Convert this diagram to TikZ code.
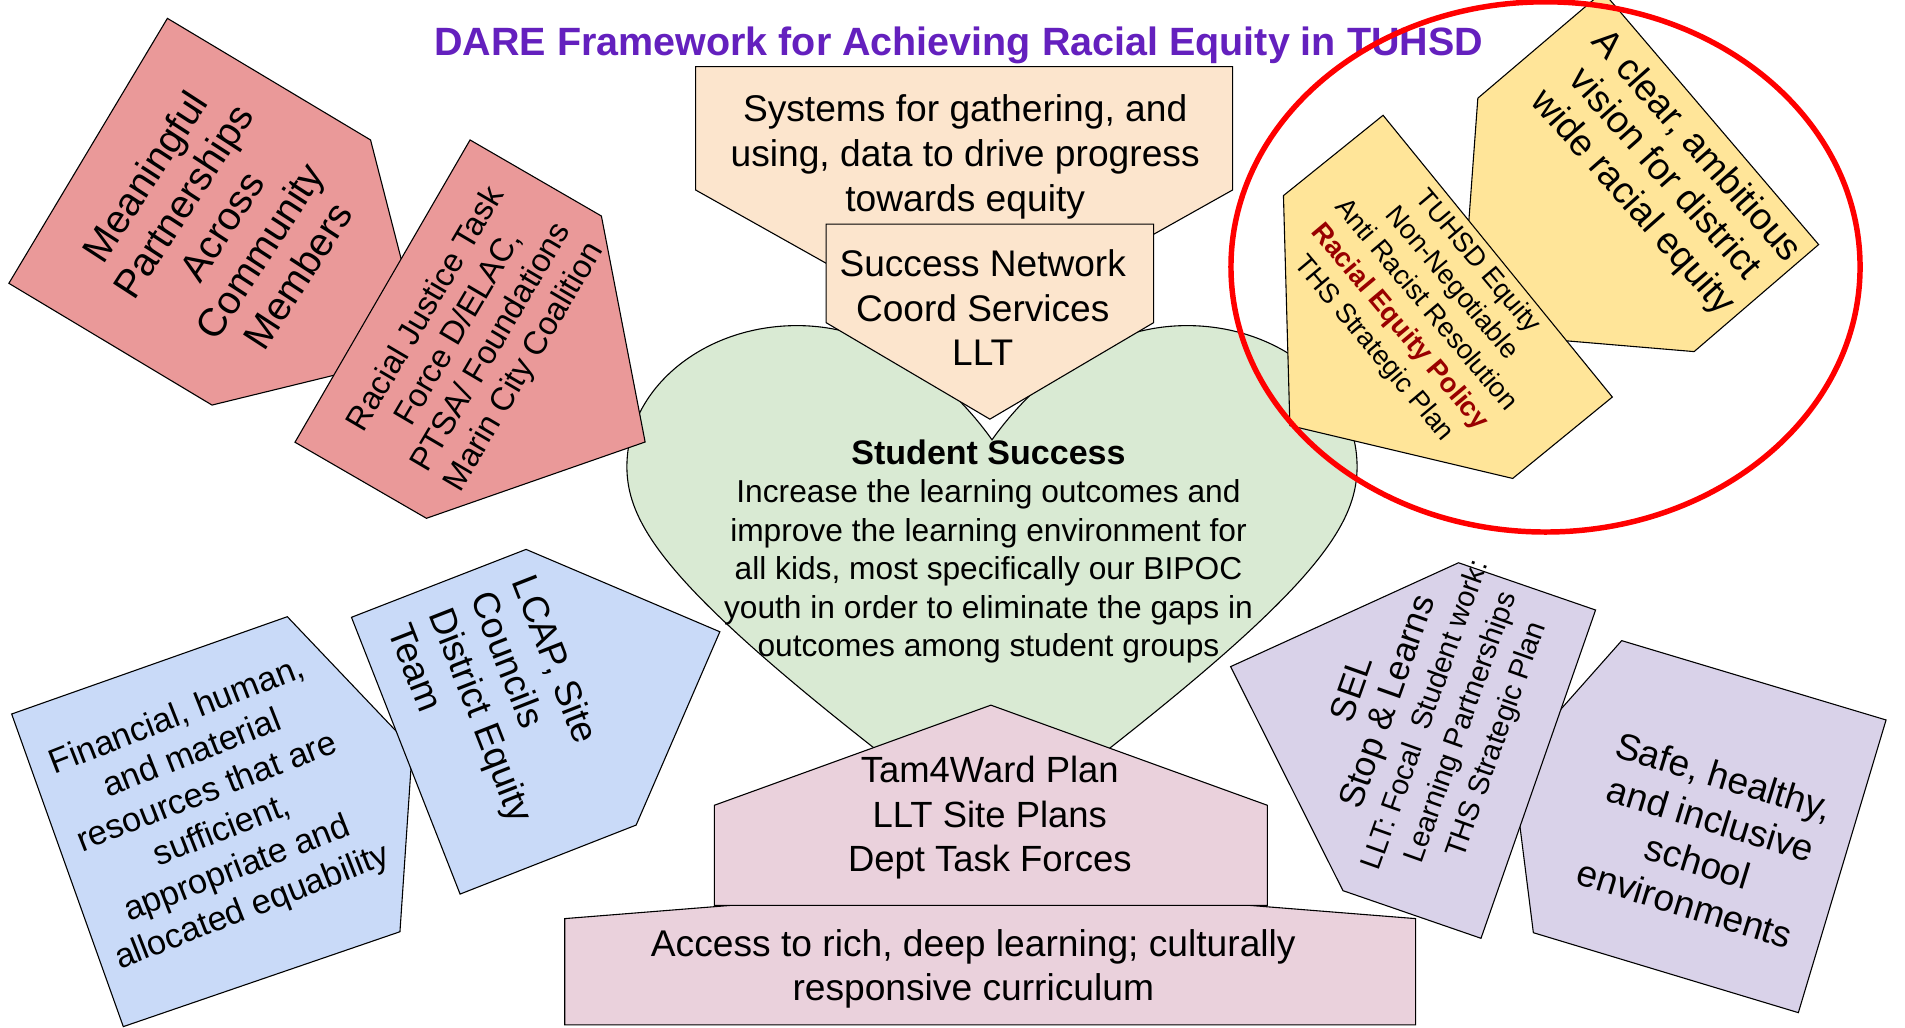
\documentclass[tikz,border=0pt]{standalone}
\usepackage{fontspec}
\setmainfont{Liberation Sans}

\definecolor{partnerpink}{HTML}{EA9999}
\definecolor{datapeach}{HTML}{FCE5CD}
\definecolor{heartgreen}{HTML}{D9EAD3}
\definecolor{visionyellow}{HTML}{FFE599}
\definecolor{resourceblue}{HTML}{C9DAF8}
\definecolor{learnpink}{HTML}{EAD1DC}
\definecolor{climatelilac}{HTML}{D9D2E9}
\definecolor{titlepurple}{HTML}{6420BE}
\definecolor{policyred}{HTML}{990000}

\tikzstyle{piece} = [draw=black, line width=0.9pt]
\tikzstyle{txt} = [align=center, inner sep=0pt, font=\fontsize{30.5}{36.6}\selectfont]

\begin{document}
\begin{tikzpicture}[x=1pt, y=-1pt]

\useasboundingbox (0,0) rectangle (1568,846);
\fill[white] (0,0) rectangle (1568,846);

% Student success heart
\draw [piece, fill=heartgreen] (816.5,362) .. controls (845,322) and (900,268) .. (977,268)
  .. controls (1054.3,268) and (1117,320) .. (1117,384)
  .. controls (1117,440) and (1070,500) .. (816.5,690)
  .. controls (563,500) and (516,440) .. (516,384)
  .. controls (516,320) and (578.7,268) .. (656,268)
  .. controls (733,268) and (788,322) .. (816.5,362) -- cycle;
\node (success) [txt, font=\fontsize{26.1}{31.7}\selectfont] at (813.6,454)
  {{\bfseries\fontsize{28}{31.7}\selectfont Student Success}\\
   Increase the learning outcomes and\\improve the learning environment for\\
   all kids, most specifically our BIPOC\\youth in order to eliminate the gaps in\\
   outcomes among student groups};

% Partnerships
\draw [piece, fill=partnerpink] (137.8,15.1) -- (305,115.2) -- (350.1,290.5) -- (174.5,333.4) -- (7.3,233.2) -- cycle;
\node (partners) [txt, rotate=57, font=\fontsize{32.5}{37.5}\selectfont] at (182,186)
  {Meaningful\\Partnerships\\Across\\Community\\Members};
\draw [piece, fill=partnerpink] (386.9,115.2) -- (495,177.8) -- (531,363.8) -- (351,426.6) -- (242.8,364) -- cycle;
\node (taskforce) [txt, rotate=59.5, font=\fontsize{26.8}{31.2}\selectfont] at (391.6,278.5)
  {Racial Justice Task\\Force D/ELAC,\\PTSA/ Foundations\\Marin City Coalition};

% Data systems
\draw [piece, fill=datapeach] (572.6,54.9) -- (1014.5,54.9) -- (1014.5,156.4) -- (793.5,280.4) -- (572.6,156.4) -- cycle;
\node (data) [txt, font=\fontsize{30.6}{37}\selectfont] at (794.4,129)
  {Systems for gathering, and\\using, data to drive progress\\towards equity};
\draw [piece, fill=datapeach] (680,184.5) -- (949.5,184.5) -- (949.5,265.6) -- (814.75,345) -- (680,265.6) -- cycle;
\node (network) [txt] at (808.9,253.5) {Success Network\\Coord Services\\LLT};

% Vision
\draw [piece, fill=visionyellow] (1319.4,-6.8) -- (1496.9,201.3) -- (1394.4,289.4) -- (1202.3,273.2) -- (1216.4,80.8) -- cycle;
\node (vision) [txt, rotate=-48.5, font=\fontsize{30.8}{35}\selectfont] at (1369.5,144)
  {A clear, ambitious\\vision for district\\wide racial equity};
\draw [piece, fill=visionyellow] (1138.4,94.9) -- (1327.1,326.8) -- (1245.1,393.8) -- (1061.7,350.3) -- (1056.4,161) -- cycle;
\node (policy) [txt, rotate=-50, font=\fontsize{22.5}{27.9}\selectfont] at (1173.2,251.3)
  {TUHSD Equity\\Non-Negotiable\\Anti Racist Resolution\\{\bfseries\color{policyred}Racial Equity Policy}\\THS Strategic Plan};

% Resources
\draw [piece, fill=resourceblue] (9.6,587.7) -- (236.5,507.6) -- (339.4,615.8) -- (329.2,766.9) -- (101.5,845) -- cycle;
\node (resources) [txt, rotate=21.4, font=\fontsize{28.2}{33.8}\selectfont] at (177,668.8)
  {Financial, human,\\and material\\resources that are\\sufficient,\\appropriate and\\allocated equability};
\draw [piece, fill=resourceblue] (289.3,508.1) -- (433,452.2) -- (592.5,520) -- (523.6,679.1) -- (378.7,735.9) -- cycle;
\node (lcap) [txt, align=left, rotate=-68.7] at (414,581.7) {LCAP, Site\\Councils\\District Equity\\Team};

% Curriculum
\draw [piece, fill=learnpink] (464.8,756.1) -- (815,728.2) -- (1165.2,756.1) -- (1165.2,843.6) -- (464.8,843.6) -- cycle;
\node (curriculum) [txt, font=\fontsize{30.6}{35.5}\selectfont] at (801.1,797.5)
  {Access to rich, deep learning; culturally\\responsive curriculum};
\draw [piece, fill=learnpink] (815.6,580.4) -- (1043.1,662.8) -- (1043.1,745.2) -- (588,745.2) -- (588,662.8) -- cycle;
\node (plans) [txt, font=\fontsize{30}{36.3}\selectfont] at (814.7,673) {Tam4Ward Plan\\LLT Site Plans\\Dept Task Forces};

% Climate
\draw [piece, fill=climatelilac] (1334.8,527.3) -- (1552.4,592.6) -- (1480.2,833.5) -- (1262.1,767.7) -- (1244.6,629) -- cycle;
\node (climate) [txt, rotate=-17] at (1403,691.4) {Safe, healthy,\\and inclusive\\school\\environments};
\draw [piece, fill=climatelilac] (1200.5,463.2) -- (1313.3,502.1) -- (1219,772.3) -- (1105.4,733.1) -- (1012.9,548.7) -- cycle;
\node (sel) [txt, rotate=70.5, font=\fontsize{24}{31}\selectfont] at (1172.6,588.3)
  {{\fontsize{29}{31}\selectfont SEL}\\{\fontsize{29}{31}\selectfont Stop \& Learns}\\LLT: Focal\ \ Student work:\\Learning Partnerships\\THS Strategic Plan};

% Title and ring
\node (title) [anchor=base, text=titlepurple, font=\bfseries\fontsize{32.5}{39}\selectfont] at (789.1,45.3)
  {DARE Framework for Achieving Racial Equity in TUHSD};
\draw [red, line width=4.5pt] (1272.1,219.7) ellipse [x radius=258.9pt, y radius=218.2pt];

\end{tikzpicture}
\end{document}
